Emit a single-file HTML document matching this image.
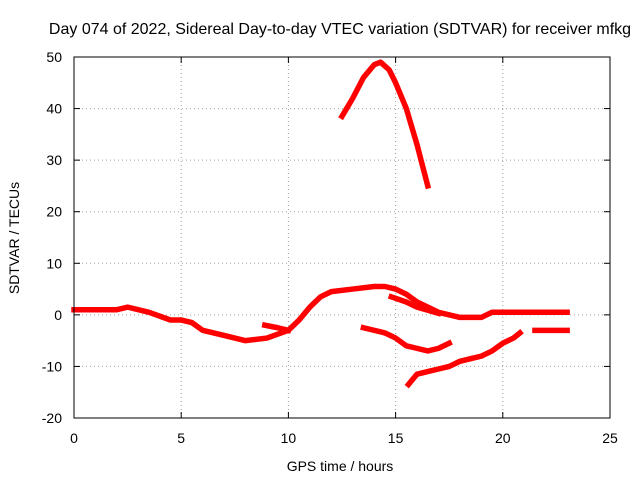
<!DOCTYPE html>
<html><head><meta charset="utf-8"><style>
body{margin:0;background:#fff;font-family:"Liberation Sans",sans-serif}
svg text{font-family:"Liberation Sans",sans-serif;font-size:14px;fill:#000}
</style></head><body>
<svg id="c" width="640" height="480" xmlns="http://www.w3.org/2000/svg">
<rect width="640" height="480" fill="#fff"/>
<text x="340" y="34" text-anchor="middle" style="font-size:16px">Day 074 of 2022, Sidereal Day-to-day VTEC variation (SDTVAR) for receiver mfkg</text>
<text x="340" y="471" text-anchor="middle">GPS time / hours</text>
<text transform="translate(19,238) rotate(-90)" text-anchor="middle">SDTVAR / TECUs</text>
<g id="grid"></g><g id="ticks"></g><g id="series"></g>
<rect x="74" y="57" width="536" height="361" fill="none" stroke="#000" stroke-width="1"/>
</svg>
<script>
const xTicks=[0,5,10,15,20,25];
const yTicks=[-20,-10,0,10,20,30,40,50];
const segMain=[[0,1],[1,1],[2,1],[2.5,1.5],[3.5,0.5],[4.5,-1],[5,-1],[5.5,-1.5],[6,-3],[7,-4],[8,-5],[9,-4.5],[10,-3],[10.5,-1],[11,1.5],[11.5,3.5],[12,4.5],[13,5],[14,5.5],[14.5,5.5],[15,5],[15.5,4],[16,2.5],[16.5,1.5],[17,0.5],[18,-0.5],[19,-0.5],[19.5,0.5],[20,0.5],[21,0.5],[22,0.5],[23,0.5]];
const segBranch=[[14.8,3.5],[15.5,2.5],[16,1.5],[17,0.3]];
const segB=[[8.9,-2],[9.5,-2.5],[10,-3]];
const segUpper=[[12.5,38.5],[13,42],[13.5,46],[14,48.5],[14.3,49],[14.7,47.5],[15,45],[15.5,40],[16,33],[16.5,25]];
const segD=[[13.5,-2.5],[14.5,-3.5],[15,-4.5],[15.5,-6],[16,-6.5],[16.5,-7],[17,-6.5],[17.5,-5.5]];
const segE=[[15.6,-13.5],[16,-11.5],[16.5,-11],[17,-10.5],[17.5,-10],[18,-9],[18.5,-8.5],[19,-8],[19.5,-7],[20,-5.5],[20.5,-4.5],[20.8,-3.5]];
const segF=[[21.5,-3],[22,-3],[23,-3]];
const X=v=>74+v*(536/25), Y=v=>418-(v+20)*(361/70);
const NS="http://www.w3.org/2000/svg";
const grid=document.getElementById('grid'),ticks=document.getElementById('ticks'),ser=document.getElementById('series');
function mk(t,a,p){const e=document.createElementNS(NS,t);for(const k in a)e.setAttribute(k,a[k]);p.appendChild(e);return e;}
xTicks.forEach(v=>{
 if(v>0&&v<25){const g=mk('line',{x1:X(v),x2:X(v),y1:57,y2:418,stroke:'#a0a0a0','stroke-dasharray':'1,3'},grid);
 
 }
 const t=mk('text',{x:X(v),y:443,'text-anchor':'middle'},ticks);t.textContent=v;
 
 
 mk('line',{x1:X(v),x2:X(v),y1:418,y2:412,stroke:'#000'},ticks);
 mk('line',{x1:X(v),x2:X(v),y1:57,y2:63,stroke:'#000'},ticks);
});
yTicks.forEach(v=>{
 if(v>-20&&v<50){const g=mk('line',{x1:74,x2:610,y1:Y(v),y2:Y(v),stroke:'#a0a0a0','stroke-dasharray':'1,3'},grid);
 
 }
 const t=mk('text',{x:62,y:Y(v)+5,'text-anchor':'end'},ticks);t.textContent=v;
 
 
 mk('line',{x1:74,x2:80,y1:Y(v),y2:Y(v),stroke:'#000'},ticks);
 mk('line',{x1:610,x2:604,y1:Y(v),y2:Y(v),stroke:'#000'},ticks);
});
[[segMain,'series-main'],[segBranch,'series-branch'],[segB,'series-b'],[segUpper,'series-upper'],[segD,'series-d'],[segE,'series-e'],[segF,'series-f']].forEach(([s,n])=>{
 const p=mk('polyline',{points:s.map(d=>X(d[0])+','+Y(d[1])).join(' '),fill:'none',stroke:'#f00','stroke-width':5.5,'stroke-linejoin':'round','stroke-linecap':'square'},ser);
 
 
});
</script>
</body></html>
